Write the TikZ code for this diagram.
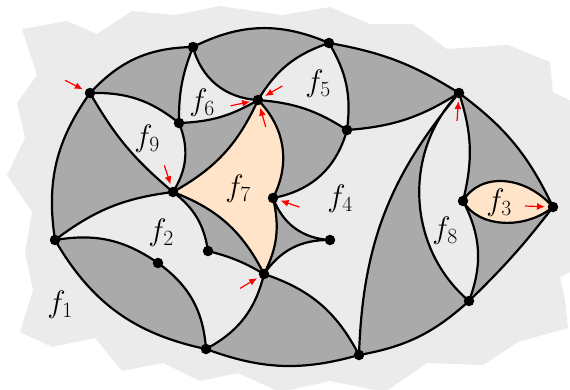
\RequirePackage{fix-cm}
\documentclass[tikz,border=0pt]{standalone}
\usetikzlibrary{arrows.meta}
\definecolor{darkface}{HTML}{AAAAAA}
\definecolor{lightface}{HTML}{EBEBEB}
\definecolor{peach}{HTML}{FFE4CA}
\newcommand{\rootmark}[2]{\draw[root] (#1) ++(#2:28) -- (#1);}

\begin{document}
\begin{tikzpicture}[x=1pt, y=-1pt,
  edge/.style={line width=2.2pt, line join=round},
  dot/.style={circle, fill, inner sep=0pt, minimum size=10.5pt},
  face/.style={font=\fontsize{31}{34}\selectfont},
  root/.style={red, line width=1.2pt, -{Latex[length=8pt, width=7pt]}, shorten >=8pt}
]
\useasboundingbox (0,0) rectangle (570,389);

% outer face f1
\fill[lightface] (22,29) -- (67,21) -- (97,34) -- (132,11) -- (175,15) -- (220,6)
  -- (282,15) -- (330,7) -- (370,24) -- (413,24) -- (447,49) -- (508,45) -- (550,62)
  -- (553,92) -- (575,103) -- (575,270) -- (560,277) -- (565,300) -- (568,328)
  -- (518,342) -- (483,365) -- (427,363) -- (385,392) -- (330,381) -- (280,392)
  -- (238,373) -- (200,381) -- (163,363) -- (122,371) -- (95,338) -- (52,347)
  -- (20,332) -- (33,290) -- (25,253) -- (32,212) -- (7,175) -- (25,138)
  -- (17,103) -- (37,75) -- cycle;

% vertices
\coordinate (A) at (90,93);
\coordinate (B) at (193,47);
\coordinate (C) at (329,43);
\coordinate (D) at (459,93);
\coordinate (E) at (553,207);
\coordinate (F) at (469,301);
\coordinate (G) at (359,355);
\coordinate (H) at (206,349);
\coordinate (I) at (55,240);
\coordinate (J) at (158,263);
\coordinate (K) at (173,192);
\coordinate (L) at (179,123);
\coordinate (M) at (258,100);
\coordinate (N) at (347,130);
\coordinate (O) at (273,198);
\coordinate (P) at (330,240);
\coordinate (Q) at (264,274);
\coordinate (R) at (208,251);
\coordinate (S) at (463,201);

% dark ribbons, then the faces on top
\fill[darkface] (A) to[bend left=23] (B) to[bend left=25] (C) to[bend left=11] (D)
  to[bend left=14] (E) to[bend left=4] (F) to[bend left=16] (G) to[bend left=18] (H)
  to[bend left=24] (I) to[bend left=22] (A) -- cycle;
\fill[lightface] (A) to[bend left=20] (L) to[bend left=27] (K) to[bend left=10] (A) -- cycle;
\fill[lightface] (B) to[bend right=11] (L) to[bend right=14] (M) to[bend left=36] (B) -- cycle;
\fill[lightface] (M) to[bend left=20] (C) to[bend left=19] (N) to[bend right=14] (M) -- cycle;
\fill[lightface] (N) to[bend right=14] (D) to[bend right=19] (G) to[bend right=22] (Q)
  to[bend left=28] (P) to[bend left=33] (O) to[bend right=32] (N) -- cycle;
\fill[lightface] (I) to[bend left=15] (K) to[bend left=22] (R) to[bend left=8] (Q)
  to[bend left=24] (H) to[bend right=25] (J) to[bend right=22] (I) -- cycle;
\fill[lightface] (D) to[bend left=16] (S) to[bend left=24] (F) to[bend left=47] (D) -- cycle;
\fill[peach] (K) to[bend right=18] (M) to[bend left=36] (O) to[bend left=20] (Q)
  to[bend right=21] (K) -- cycle;
\fill[peach] (S) .. controls (480,172) and (525,175) .. (E)
  .. controls (525,230) and (478,228) .. (S) -- cycle;

% edges
\draw[edge] (A) to[bend left=23] (B) to[bend left=25] (C) to[bend left=11] (D)
  to[bend left=14] (E) to[bend left=4] (F) to[bend left=16] (G) to[bend left=18] (H)
  to[bend left=24] (I) to[bend left=22] (A);
\draw[edge] (A) to[bend right=10] (K)
  (A) to[bend left=20] (L)
  (L) to[bend left=27] (K)
  (B) to[bend right=11] (L)
  (B) to[bend right=36] (M)
  (L) to[bend right=14] (M)
  (K) to[bend right=18] (M)
  (M) to[bend left=36] (O)
  (O) to[bend left=20] (Q)
  (K) to[bend left=21] (Q)
  (K) to[bend left=22] (R)
  (R) to[bend left=8] (Q)
  (O) to[bend right=33] (P)
  (Q) to[bend left=28] (P);
\draw[edge] (M) to[bend left=14] (N)
  (M) to[bend left=20] (C)
  (C) to[bend left=19] (N)
  (N) to[bend right=14] (D)
  (N) to[bend left=32] (O);
\draw[edge] (I) to[bend left=15] (K)
  (I) to[bend left=22] (J)
  (J) to[bend left=25] (H)
  (H) to[bend right=24] (Q)
  (Q) to[bend left=22] (G);
\draw[edge] (G) to[bend left=19] (D)
  (D) to[bend right=47] (F)
  (D) to[bend left=16] (S)
  (S) to[bend left=24] (F)
  (S) .. controls (480,172) and (525,175) .. (E)
  (S) .. controls (478,228) and (525,230) .. (E);

\foreach \v in {A,B,C,D,E,F,G,H,I,J,K,L,M,N,O,P,Q,R,S}
  \node[dot] (dot\v) at (\v) {};

% face labels
\node[face] (f1) at (60,305) {$f_1$};
\node[face] (f2) at (161,233) {$f_2$};
\node[face] (f3) at (499,203) {$f_3$};
\node[face] (f4) at (340,199) {$f_4$};
\node[face] (f5) at (318,84) {$f_5$};
\node[face] (f6) at (202,103) {$f_6$};
\node[face] (f7) at (238,189) {$f_7$};
\node[face] (f8) at (445,231) {$f_8$};
\node[face] (f9) at (147,139) {$f_9$};

% root corners
\rootmark{A}{207}
\rootmark{K}{252}
\rootmark{M}{168}
\rootmark{M}{330}
\rootmark{M}{74}
\rootmark{O}{19}
\rootmark{Q}{149}
\rootmark{D}{94}
\rootmark{E}{182}
\end{tikzpicture}
\end{document}
